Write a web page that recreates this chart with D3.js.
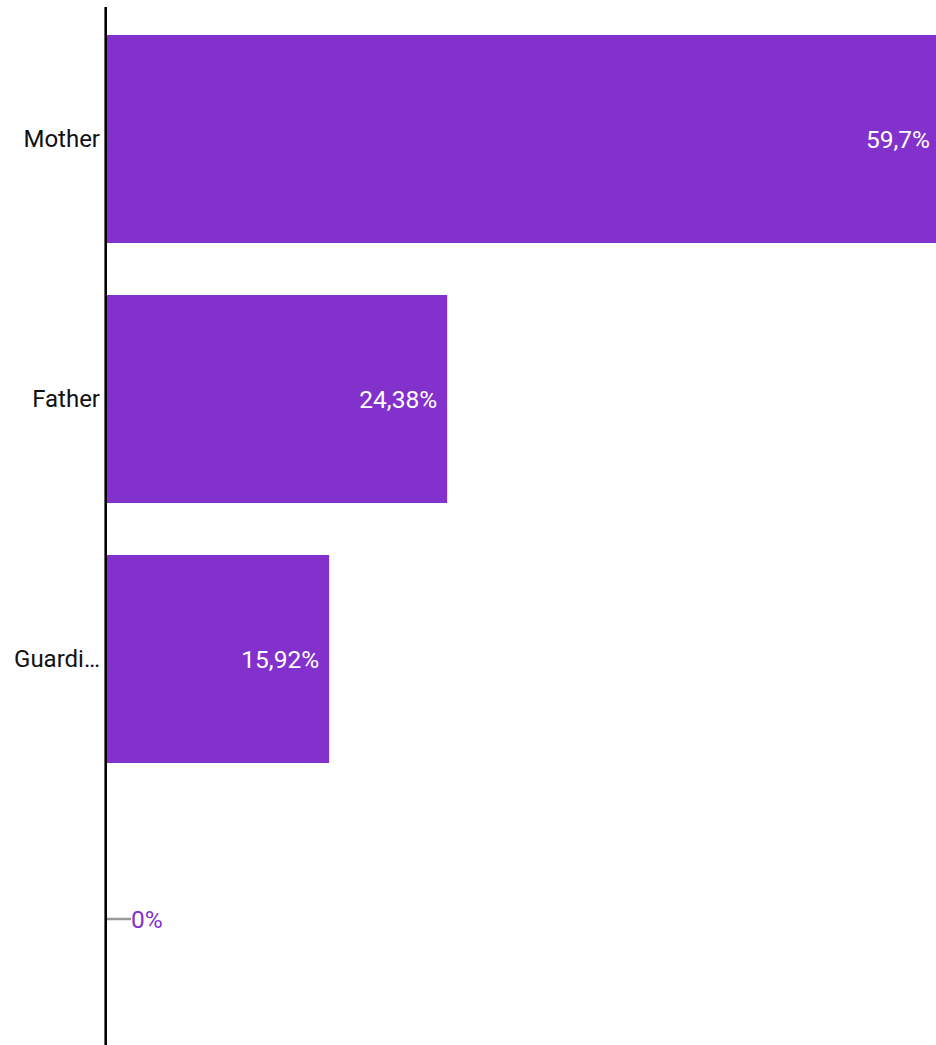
<!DOCTYPE html>
<html>
<head>
<meta charset="utf-8">
<script src="https://cdn.jsdelivr.net/npm/d3@7"></script>
<style>
  html, body { margin: 0; padding: 0; background: #fff; overflow: hidden; }
  svg { display: block; font-family: Roboto, "Noto Sans", sans-serif; }
</style>
</head>
<body>
<svg id="chart" width="936" height="1045"></svg>
<script>
// Who filled in the form: share of responses per relationship
const categories = ["Mother", "Father", "Guardian", ""];
const values = [59.7, 24.38, 15.92, 0];
const valueLabels = ["59,7%", "24,38%", "15,92%", "0%"];

const width = 936, height = 1045;
const margin = { left: 107, top: 9 };
const plotRight = 940;          // the value scale runs slightly past the viewport edge
const barColor = "#8331cc";
const maxLabelWidth = 90;
const valueFontSize = 24.5;
const categoryFontSize = 24;

const svg = d3.select("#chart");

const x = d3.scaleLinear()
  .domain([0, d3.max(values)])
  .range([margin.left, plotRight]);

const y = d3.scaleBand()
  .domain(d3.range(categories.length))
  .range([margin.top, margin.top + 260 * categories.length])
  .paddingInner(0.2)
  .paddingOuter(0.1);

const data = categories.map((c, i) => ({ c, v: values[i], label: valueLabels[i], i }));

// bars
svg.append("g").selectAll("rect")
  .data(data)
  .join("rect")
  .attr("x", x(0))
  .attr("y", d => y(d.i))
  .attr("width", d => x(d.v) - x(0))
  .attr("height", y.bandwidth())
  .attr("fill", barColor);

// value labels: inside the bar end, or outside with a leader line when the bar is too short
const labels = svg.append("g").attr("font-size", valueFontSize);
data.forEach(d => {
  const cy = y(d.i) + y.bandwidth() / 2;
  const barW = x(d.v) - x(0);
  if (barW > 90) {
    labels.append("text")
      .attr("x", x(d.v) - 10)
      .attr("y", cy)
      .attr("dy", "0.35em")
      .attr("text-anchor", "end")
      .attr("fill", "#fff")
      .text(d.label);
  } else {
    svg.append("line")
      .attr("x1", x(d.v))
      .attr("x2", x(d.v) + 24)
      .attr("y1", cy)
      .attr("y2", cy)
      .attr("stroke", "#999")
      .attr("stroke-width", 2.5);
    labels.append("text")
      .attr("x", x(d.v) + 24)
      .attr("y", cy)
      .attr("dy", "0.35em")
      .attr("text-anchor", "start")
      .attr("fill", barColor)
      .text(d.label);
  }
});

// category axis
const yAxis = d3.axisLeft(y)
  .tickSize(0)
  .tickPadding(7)
  .tickFormat(i => categories[i]);

const axisG = svg.append("g")
  .attr("transform", `translate(${margin.left},0)`)
  .call(yAxis);

axisG.select(".domain").remove();
axisG.selectAll("text")
  .attr("font-size", categoryFontSize)
  .attr("font-family", "Roboto, sans-serif")
  .attr("fill", "#111")
  .each(function () {
    const t = d3.select(this);
    const full = t.text();
    if (this.getComputedTextLength() > maxLabelWidth) {
      let s = full;
      while (s.length > 1) {
        s = s.slice(0, -1);
        t.text(s + "…");
        if (this.getComputedTextLength() <= maxLabelWidth) break;
      }
    }
  });

svg.append("line")
  .attr("x1", margin.left - 1.3)
  .attr("x2", margin.left - 1.3)
  .attr("y1", 7)
  .attr("y2", height)
  .attr("stroke", "#000")
  .attr("stroke-width", 2.6);
</script>
</body>
</html>
